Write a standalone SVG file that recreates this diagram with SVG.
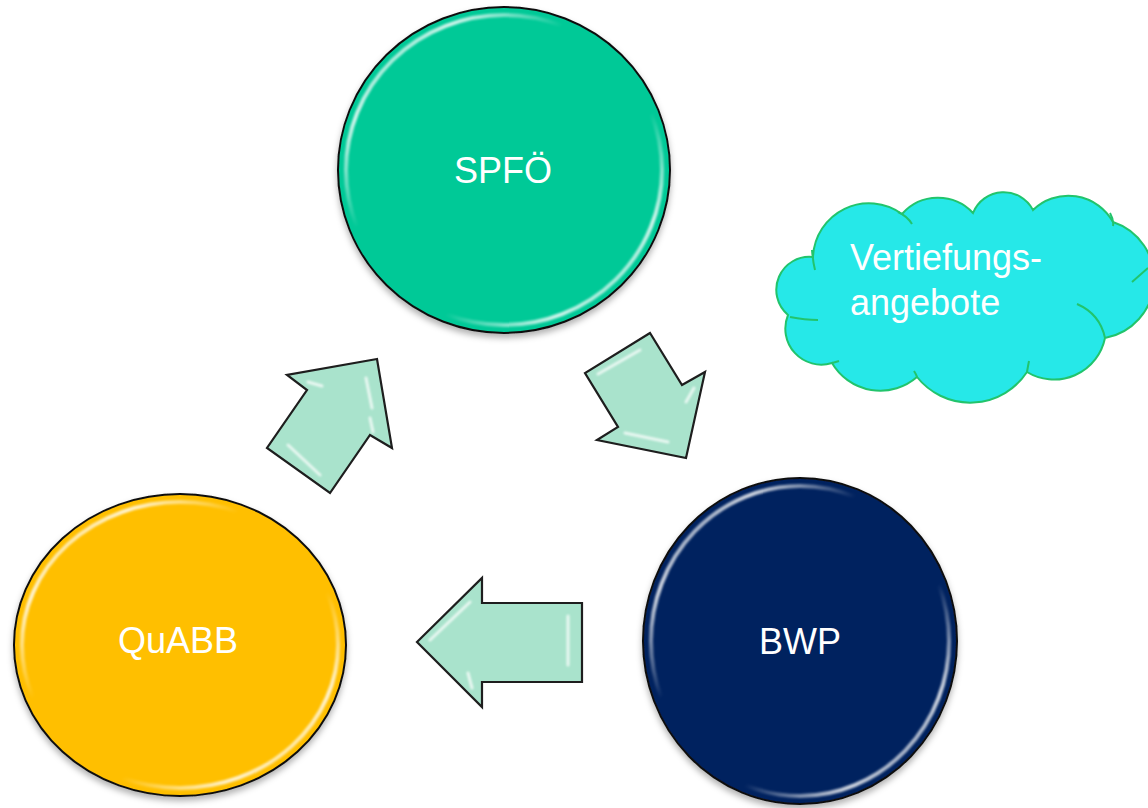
<svg xmlns="http://www.w3.org/2000/svg" width="1148" height="808" viewBox="0 0 1148 808">
  <defs>
    <style>
      .label { font-family: "Liberation Sans", Arial, sans-serif; font-size: 36px; fill: #ffffff; }
      .disc { stroke: #111111; stroke-width: 2; }
      .rim { fill: none; stroke-width: 4; }
      .arrow { fill: #a9e3cc; stroke: #1e1e1e; stroke-width: 2.2; stroke-linejoin: miter; }
      .bevel { fill: none; stroke: #ffffff; stroke-width: 3; stroke-linecap: round; opacity: 0.75; }
      .cloud { fill: #26e8e8; stroke: #22c46c; stroke-width: 2; }
      .hook { fill: none; stroke: #22c46c; stroke-width: 2; }
    </style>
    <filter id="shadow" x="-10%" y="-10%" width="120%" height="125%">
      <feDropShadow dx="0" dy="4" stdDeviation="3" flood-color="#000000" flood-opacity="0.3"/>
    </filter>
    <filter id="soft" x="-10%" y="-10%" width="120%" height="120%">
      <feGaussianBlur stdDeviation="1.2"/>
    </filter>
    <linearGradient id="rimGrad" x1="0" y1="0" x2="1" y2="1">
      <stop offset="0" stop-color="#ffffff" stop-opacity="0"/>
      <stop offset="0.18" stop-color="#ffffff" stop-opacity="0.8"/>
      <stop offset="0.36" stop-color="#ffffff" stop-opacity="0"/>
      <stop offset="0.64" stop-color="#ffffff" stop-opacity="0"/>
      <stop offset="0.82" stop-color="#ffffff" stop-opacity="0.8"/>
      <stop offset="1" stop-color="#ffffff" stop-opacity="0"/>
    </linearGradient>
  </defs>

  <rect width="1148" height="808" fill="#ffffff"/>

  <!-- SPFÖ -->
  <g id="node-spfoe">
    <ellipse class="disc" cx="504" cy="170" rx="166" ry="163" fill="#04c997" filter="url(#shadow)"/>
    <ellipse class="rim" cx="504" cy="170" rx="158" ry="155" stroke="url(#rimGrad)" filter="url(#soft)"/>
    <text class="label" x="503" y="183" text-anchor="middle">SPFÖ</text>
  </g>

  <!-- BWP -->
  <g id="node-bwp">
    <ellipse class="disc" cx="800" cy="641" rx="157" ry="163" fill="#04215e" filter="url(#shadow)"/>
    <ellipse class="rim" cx="800" cy="641" rx="149" ry="155" stroke="url(#rimGrad)" filter="url(#soft)"/>
    <text class="label" x="800" y="654" text-anchor="middle">BWP</text>
  </g>

  <!-- QuABB -->
  <g id="node-quabb">
    <ellipse class="disc" cx="180" cy="645" rx="166" ry="151" fill="#ffbf00" filter="url(#shadow)"/>
    <ellipse class="rim" cx="180" cy="645" rx="158" ry="143" stroke="url(#rimGrad)" filter="url(#soft)"/>
    <text class="label" x="178" y="653" text-anchor="middle">QuABB</text>
  </g>

  <!-- Vertiefungsangebote cloud -->
  <g id="node-vertiefung">
    <path class="cloud" d="M 813,257 A 56 56 0 0 1 902,214 A 48 48 0 0 1 973,213 A 33 33 0 0 1 1033,210 A 51 51 0 0 1 1113,222 A 60 60 0 0 1 1105,338 A 52 52 0 0 1 1027,372 A 68 68 0 0 1 917,377 A 56 56 0 0 1 832,363 A 36 36 0 0 1 788,315 A 33 33 0 0 1 813,257 Z"/>
    <path class="hook" d="M 898,212 Q 907,216 912,224 M 1110,213 Q 1114,220 1113,226 M 1132,282 Q 1140,275 1148,268 M 1105,338 Q 1100,314 1077,304 M 790,317 Q 805,320 818,320 M 832,363 Q 836,362 839,361 M 812,250 Q 813,262 815,270 M 1027,372 Q 1028,366 1029,361 M 917,377 Q 916,374 914,371"/>
    <text class="label" x="850" y="270">Vertiefungs-</text>
    <text class="label" x="850" y="315">angebote</text>
  </g>

  <!-- cycle arrows -->
  <g id="connectors">
    <g id="arrow-quabb-spfoe">
      <polygon class="arrow" points="377,359 287,375 307,390 267,448 330,493 370,435 392,448"/>
      <path class="bevel" d="M 308,382 L 322,386 M 366,378 L 372,408 M 370,418 L 373,432 M 288,445 L 320,475" filter="url(#soft)"/>
    </g>
    <g id="arrow-spfoe-bwp">
      <polygon class="arrow" points="650,333 585,373 618,427 597,440 686,458 705,372 682,385"/>
      <path class="bevel" d="M 598,374 L 640,350 M 694,388 L 686,402 M 625,433 L 668,442" filter="url(#soft)"/>
    </g>
    <g id="arrow-bwp-quabb">
      <polygon class="arrow" points="417,642 482,578 482,603 582,603 582,682 482,682 482,707"/>
      <path class="bevel" d="M 430,640 L 470,602 M 568,616 L 568,665 M 468,673 L 472,688" filter="url(#soft)"/>
    </g>
  </g>
</svg>
